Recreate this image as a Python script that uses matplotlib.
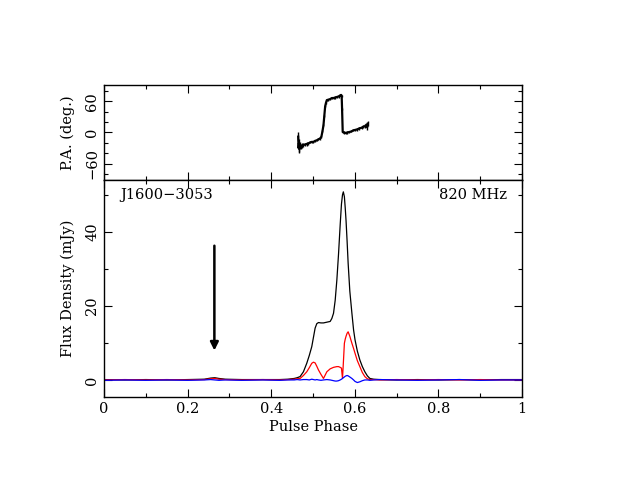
import numpy as np
import matplotlib.pyplot as plt
from matplotlib.ticker import MultipleLocator

plt.rcParams['font.family'] = ['DejaVu Serif', 'Liberation Serif']

# Profil total (I), lineaire (L) et circulaire (V), en mJy
phase = [0.0, 0.05, 0.1, 0.15, 0.2, 0.24, 0.255, 0.265, 0.275, 0.29, 0.33, 0.38, 0.42, 0.44,
         0.455, 0.462, 0.469, 0.477, 0.485, 0.491, 0.497, 0.501, 0.505, 0.509, 0.513,
         0.519, 0.525, 0.533, 0.541, 0.545, 0.549, 0.553, 0.557, 0.561, 0.565, 0.568,
         0.5705, 0.5725, 0.575, 0.577, 0.579, 0.5815, 0.584, 0.588, 0.593, 0.597,
         0.6005, 0.606, 0.612, 0.618, 0.624, 0.63, 0.636, 0.645, 0.66, 0.7, 0.75,
         0.8, 0.85, 0.9, 0.95, 1.0]
I = [0.1, 0.0, 0.1, 0.0, 0.1, 0.2, 0.5, 0.6, 0.4, 0.2, 0.1, 0.1, 0.1, 0.2,
     0.4, 0.6, 0.9, 2.2, 4.5, 6.6, 9.0, 11.5, 14.0, 15.2, 15.5,
     15.4, 15.4, 15.6, 15.8, 16.6, 18.0, 21.5, 27.0, 34.0, 42.0, 47.5,
     50.0, 50.8, 49.5, 46.5, 43.0, 37.5, 31.5, 24.0, 18.0, 13.5,
     10.8, 7.8, 5.4, 3.6, 2.2, 1.1, 0.4, 0.2, 0.1, 0.0, 0.1,
     0.0, 0.1, 0.0, 0.1, 0.1]
L = [0.0, 0.1, 0.0, 0.1, 0.0, 0.1, 0.3, 0.4, 0.2, 0.1, 0.0, 0.1, 0.0, 0.1,
     0.2, 0.3, 0.4, 1.2, 2.2, 3.3, 4.5, 4.8, 4.6, 3.7, 2.7,
     1.5, 0.4, 2.2, 3.0, 3.2, 3.4, 3.5, 3.6, 3.6, 3.4, 3.2,
     0.4, 4.5, 9.9, 11.0, 11.8, 12.6, 13.0, 11.8, 9.9, 8.5,
     7.2, 5.2, 3.6, 2.0, 0.9, 0.3, 0.1, 0.1, 0.0, 0.1, 0.0,
     0.1, 0.0, 0.1, 0.0, 0.0]
V = [-0.1, 0.0, -0.1, 0.0, -0.1, 0.0, 0.1, 0.0, -0.1, 0.0, -0.1, 0.0, -0.1, 0.0,
     0.0, 0.1, 0.0, 0.1, 0.1, 0.0, 0.2, 0.1, 0.0, 0.1, 0.0,
     -0.1, 0.0, 0.1, 0.0, -0.1, -0.2, -0.3, -0.3, -0.2, 0.0, 0.2,
     0.4, 0.6, 0.8, 1.0, 1.1, 1.2, 1.1, 0.8, 0.4, 0.0,
     -0.4, -0.7, -0.5, -0.2, 0.0, 0.0, -0.1, 0.0, 0.1, 0.0, -0.1,
     0.0, 0.1, -0.1, 0.0, 0.0]

# Angle de polarisation (deg)
pa_phase = [0.4645, 0.4655, 0.4665, 0.4675, 0.469, 0.471, 0.474, 0.477, 0.481, 0.485,
            0.489, 0.493, 0.497, 0.501, 0.505, 0.509, 0.513, 0.517, 0.520, 0.5225,
            0.525, 0.527, 0.529, 0.531, 0.533, 0.537, 0.541, 0.545, 0.549, 0.553,
            0.557, 0.561, 0.565, 0.567, 0.5685, 0.5695, 0.571, 0.574, 0.578, 0.582,
            0.587, 0.592, 0.596, 0.601, 0.606, 0.611, 0.616, 0.620, 0.624, 0.627,
            0.6295, 0.631]
pa = [-8, -30, -20, -32, -24, -27, -25, -24, -23, -22,
      -21, -19, -18, -18, -16, -15, -13, -11.5, -8, 2,
      14, 32, 50, 57, 62, 63, 64, 66, 66, 67,
      68, 69, 71, 72, 70, 45, 1, 0, -1, 0,
      1, 2, 4, 5, 6, 8, 9, 11, 12, 14,
      10, 17]
pa_err = [8, 8, 7, 7, 6, 5, 4, 3, 3, 3,
          2, 2, 2, 2, 2, 2, 2, 2, 2, 2,
          2, 2, 2, 2, 2, 2, 2, 2, 2, 2,
          2, 2, 2, 2, 2, 2, 2, 2, 2, 2,
          2, 2, 2, 2, 3, 3, 3, 3, 4, 4,
          5, 5]

fig = plt.figure(figsize=(6.27, 4.84), dpi=100)
ax1 = fig.add_axes([0.1659, 0.6281, 0.6667, 0.1963])
ax2 = fig.add_axes([0.1659, 0.1798, 0.6667, 0.4483])

for ax in (ax1, ax2):
    ax.tick_params(which='both', direction='in', top=True, right=True, labelsize=10.5)
    ax.tick_params(which='major', length=6, width=0.8)
    ax.tick_params(which='minor', length=3, width=0.8)
    ax.set_xlim(0, 1)
    ax.xaxis.set_major_locator(MultipleLocator(0.2))
    ax.xaxis.set_minor_locator(MultipleLocator(0.1))
    for s in ax.spines.values():
        s.set_linewidth(1.0)

# Panneau du haut : PA
ax1.errorbar(pa_phase, pa, yerr=pa_err, fmt='none', ecolor='black', elinewidth=1.0)
ax1.plot(pa_phase, pa, color='black', lw=1.6)
ax1.set_ylim(-91, 91)
ax1.yaxis.set_major_locator(MultipleLocator(60))
ax1.yaxis.set_minor_locator(MultipleLocator(20))
ax1.set_yticks([-60, 0, 60])
ax1.set_yticklabels(['\u221260', '0', '60'], rotation=90, va='center')
ax1.tick_params(axis='x', labelbottom=False)
ax1.set_ylabel('P.A. (deg.)', fontsize=10.5, labelpad=7)

# Panneau du bas : profil
ax2.plot(phase, I, color='black', lw=0.9)
ax2.plot(phase, L, color='red', lw=0.9)
ax2.plot(phase, V, color='blue', lw=0.9)
ax2.set_ylim(-4.6, 54)
ax2.yaxis.set_major_locator(MultipleLocator(20))
ax2.yaxis.set_minor_locator(MultipleLocator(10))
ax2.set_yticks([0, 20, 40])
ax2.set_yticklabels(['0', '20', '40'], rotation=90, va='center')
ax2.set_xticks([0, 0.2, 0.4, 0.6, 0.8, 1.0])
ax2.set_xticklabels(['0', '0.2', '0.4', '0.6', '0.8', '1'])
ax2.set_xlabel('Pulse Phase', fontsize=10.5, labelpad=3)
ax2.set_ylabel('Flux Density (mJy)', fontsize=10.5, labelpad=7)

ax2.annotate('', xy=(0.264, 7.2), xytext=(0.264, 37),
             arrowprops=dict(arrowstyle='-|>', color='black', lw=1.8, mutation_scale=12))
ax2.text(0.038, 0.93, 'J1600\u22123053', transform=ax2.transAxes, fontsize=10.5,
         ha='left', va='center')
ax2.text(0.965, 0.93, '820 MHz', transform=ax2.transAxes, fontsize=10.5,
         ha='right', va='center')

fig.savefig('out.png', dpi=100)
